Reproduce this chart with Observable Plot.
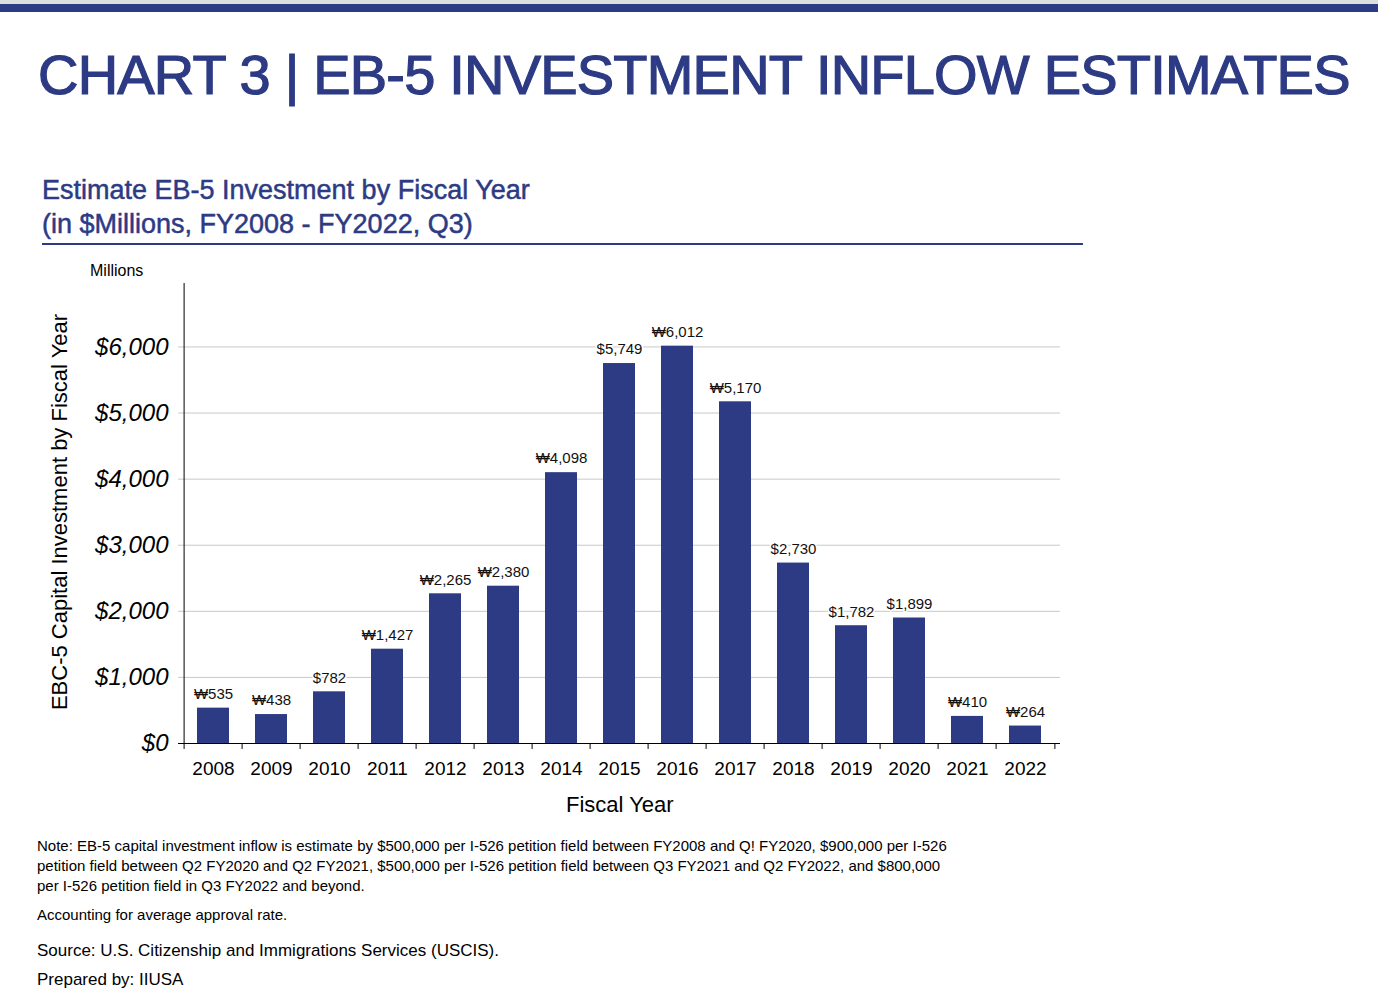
<!DOCTYPE html>
<html><head><meta charset="utf-8">
<script src="https://cdn.jsdelivr.net/npm/d3@7"></script>
<script src="https://cdn.jsdelivr.net/npm/@observablehq/plot@0.6"></script>
<style>
body{margin:0;width:1378px;height:1008px;position:relative;background:#fff;font-family:"Liberation Sans",Arial,sans-serif;overflow:hidden}
.a{position:absolute}
</style></head><body>
<div class="a" style="left:0;top:0;width:1378px;height:4px;background:#ddd"></div>
<div class="a" style="left:0;top:4px;width:1378px;height:8px;background:#2d3a84"></div>
<div class="a" style="left:38px;top:42px;font-size:56px;color:#2d3a84;letter-spacing:-0.8px;-webkit-text-stroke:1.2px #2d3a84;white-space:nowrap">CHART 3 | EB-5 INVESTMENT INFLOW ESTIMATES</div>
<div class="a" style="left:42px;top:173px;font-size:27px;color:#2d3a84;line-height:34px;letter-spacing:0px;-webkit-text-stroke:0.5px #2d3a84">Estimate EB-5 Investment by Fiscal Year<br>(in $Millions, FY2008 - FY2022, Q3)</div>
<div class="a" style="left:42px;top:243px;width:1041px;height:2px;background:#2d3a84"></div>
<div class="a" style="left:90px;top:262px;font-size:16px">Millions</div>
<div class="a" style="left:60px;top:512px;font-size:22px;white-space:nowrap;transform:translate(-50%,-50%) rotate(-90deg)">EBC-5 Capital Investment by Fiscal Year</div>
<div class="a" style="left:566px;top:792px;font-size:22px">Fiscal Year</div>
<div class="a" id="chart" style="left:0;top:260px"></div>
<div class="a" style="left:37px;top:836px;font-size:15px;line-height:20px;width:910px">Note: EB-5 capital investment inflow is estimate by $500,000 per I-526 petition field between FY2008 and Q! FY2020, $900,000 per I-526 petition field between Q2 FY2020 and Q2 FY2021, $500,000 per I-526 petition field between Q3 FY2021 and Q2 FY2022, and $800,000 per I-526 petition field in Q3 FY2022 and beyond.</div>
<div class="a" style="left:37px;top:906px;font-size:15px">Accounting for average approval rate.</div>
<div class="a" style="left:37px;top:941px;font-size:17px">Source: U.S. Citizenship and Immigrations Services (USCIS).</div>
<div class="a" style="left:37px;top:970px;font-size:17px">Prepared by: IIUSA</div>
<script>
const years = ["2008","2009","2010","2011","2012","2013","2014","2015","2016","2017","2018","2019","2020","2021","2022"];
const values = [535,438,782,1427,2265,2380,4098,5749,6012,5170,2730,1782,1899,410,264];
const labels = ["₩535","₩438","$782","₩1,427","₩2,265","₩2,380","₩4,098","$5,749","₩6,012","₩5,170","$2,730","$1,782","$1,899","₩410","₩264"];
const yTicks = [0,1000,2000,3000,4000,5000,6000];
const data = years.map((y,i)=>({year:y,value:values[i],label:labels[i]}));
const bw = (1060-178)/15;
const plot = Plot.plot({
  width:1100, height:560, marginLeft:178, marginRight:40, marginTop:23, marginBottom:77,
  style:{fontFamily:"Liberation Sans, Arial, sans-serif", overflow:"visible"},
  x:{domain:years, paddingInner:0.44, paddingOuter:0.22, label:null},
  y:{domain:[0,6960], label:null},
  marks:[
    Plot.ruleY(yTicks.filter(d=>d>0),{stroke:"#c8c8c8", strokeWidth:1, strokeOpacity:1}),
    Plot.barY(data,{x:"year",y:"value",fill:"#2d3a84"}),
    Plot.text(data,{x:"year",y:"value",text:"label",dy:-14,fontSize:15,fill:"#111",stroke:"white",strokeWidth:3}),
    Plot.ruleX(years,{x:d=>d,dx:-bw/2,y1:0,y2:-90,stroke:"#000"}),
    Plot.ruleX([years[years.length-1]],{dx:bw/2,y1:0,y2:-90,stroke:"#000"}),
    Plot.ruleY([0],{stroke:"#000"}),
    Plot.ruleX([years[0]],{dx:-bw/2,y1:0,y2:6960,stroke:"#000"}),
    Plot.axisY({ticks:yTicks,tickSize:0,tickPadding:10,tickFormat:d=>"$"+d3.format(",")(d),fontSize:24,fontStyle:"italic",fontWeight:"300",label:null}),
    Plot.axisX({tickSize:0,tickPadding:18,fontSize:19,fill:"#000",label:null})
  ]
});
document.getElementById("chart").appendChild(plot);
</script>
</body></html>
